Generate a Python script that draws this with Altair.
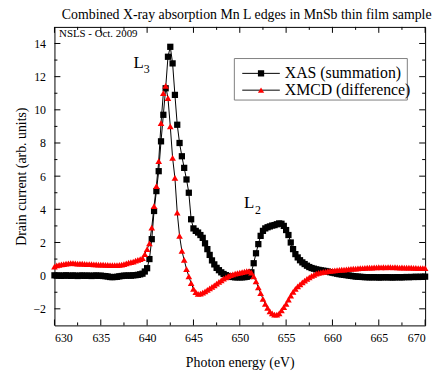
import altair as alt
import pandas as pd

# Photon energy grid (eV), 0.25 eV steps from 630 to 670
energy = [630 + 0.25 * i for i in range(161)]

# XAS (summation), black squares
xas = [
    0.02, 0.0, 0.01, -0.01, 0.0, 0.02, 0.0, -0.01,
    0.01, 0.0, -0.02, 0.0, 0.01, -0.01, 0.0, 0.0,
    -0.02, 0.0, 0.01, -0.01, 0.0, -0.02, -0.03, -0.05,
    -0.08, -0.09, -0.08, -0.07, -0.04, -0.02, 0.0, 0.0,
    0.01, 0.0, 0.02, 0.03, 0.05, 0.08, 0.12, 0.25,
    0.45, 1.0, 2.2, 3.9, 5.1, 6.3, 8.1, 9.7,
    11.3, 13.2, 13.8, 12.8, 10.9, 9.1, 8.0, 7.2,
    6.5, 5.8, 5.0, 3.4, 2.85, 2.7, 2.6, 2.45,
    2.28, 1.95, 1.6, 1.25, 0.92, 0.68, 0.47, 0.33,
    0.2, 0.1, 0.03, -0.02, -0.06, -0.08, -0.1, -0.1,
    -0.1, -0.1, -0.09, -0.07, -0.02, 0.2, 0.75, 1.35,
    1.9, 2.4, 2.7, 2.85, 2.92, 2.97, 3.02, 3.05,
    3.1, 3.15, 3.13, 3.0, 2.75, 2.45, 2.0, 1.6,
    1.3, 1.1, 0.93, 0.8, 0.7, 0.6, 0.52, 0.46,
    0.42, 0.38, 0.35, 0.32, 0.3, 0.28, 0.25, 0.21,
    0.18, 0.15, 0.12, 0.09, 0.07, 0.05, 0.03, 0.01,
    -0.01, -0.03, -0.05, -0.06, -0.07, -0.08, -0.09, -0.09,
    -0.1, -0.1, -0.09, -0.1, -0.11, -0.1, -0.1, -0.09,
    -0.1, -0.1, -0.11, -0.1, -0.09, -0.1, -0.1, -0.09,
    -0.08, -0.09, -0.08, -0.08, -0.07, -0.08, -0.07, -0.07,
    -0.06,
]

# XMCD (difference), red triangles
xmcd = [
    0.55, 0.62, 0.65, 0.68, 0.7, 0.72, 0.74, 0.75,
    0.76, 0.74, 0.73, 0.72, 0.72, 0.71, 0.7, 0.7,
    0.69, 0.68, 0.68, 0.67, 0.67, 0.66, 0.65, 0.65,
    0.64, 0.63, 0.63, 0.64, 0.65, 0.67, 0.7, 0.74,
    0.78, 0.81, 0.85, 0.9, 0.95, 1.0, 1.05, 1.3,
    1.6, 1.95, 2.9, 4.2, 5.4, 6.9, 9.2, 11.0,
    11.45, 10.7, 9.0, 7.1, 5.9, 3.8, 2.4, 1.5,
    0.95, 0.4, -0.05, -0.45, -0.8, -1.0, -1.1, -1.08,
    -1.03, -0.95, -0.86, -0.77, -0.68, -0.58, -0.48, -0.38,
    -0.28, -0.18, -0.1, -0.03, 0.03, 0.08, 0.12, 0.15,
    0.19, 0.22, 0.25, 0.28, 0.27, 0.18, -0.05, -0.35,
    -0.7, -1.05, -1.4, -1.7, -1.95, -2.15, -2.28, -2.35,
    -2.35, -2.28, -2.1, -1.9, -1.7, -1.45, -1.2, -0.98,
    -0.8, -0.65, -0.52, -0.4, -0.3, -0.2, -0.1, -0.02,
    0.05, 0.12, 0.17, 0.2, 0.23, 0.25, 0.27, 0.29,
    0.31, 0.32, 0.33, 0.35, 0.36, 0.37, 0.38, 0.4,
    0.41, 0.42, 0.43, 0.44, 0.45, 0.46, 0.47, 0.48,
    0.48, 0.49, 0.5, 0.5, 0.51, 0.5, 0.51, 0.5,
    0.52, 0.51, 0.5, 0.51, 0.5, 0.49, 0.5, 0.49,
    0.48, 0.49, 0.48, 0.47, 0.47, 0.46, 0.46, 0.45,
    0.45,
]

x_major = [630, 635, 640, 645, 650, 655, 660, 665, 670]
x_minor = [632.5, 637.5, 642.5, 647.5, 652.5, 657.5, 662.5, 667.5]
y_major = [-2, 0, 2, 4, 6, 8, 10, 12, 14]
y_minor = [-1, 1, 3, 5, 7, 9, 11, 13]

series_names = ["XAS (summation)", "XMCD (difference)"]
title_text = "Combined X-ray absorption Mn L edges in MnSb thin film sample"

W, H = 375, 302
FONT = "Liberation Serif"
XDOM = [630, 670]
YDOM = [-3, 15]

df_xas = pd.DataFrame({"e": energy, "v": xas})
df_xmcd = pd.DataFrame({"e": energy, "v": xmcd})

xs = alt.Scale(domain=XDOM, nice=False, zero=False)
ys = alt.Scale(domain=YDOM, nice=False, zero=False)

x_axis = alt.Axis(values=x_major, ticks=False, domain=False, grid=False,
                  labelFont=FONT, labelFontSize=12, labelColor="black",
                  labelPadding=7, title="Photon energy (eV)", titleFont=FONT,
                  titleFontSize=14, titleFontWeight="normal", titleColor="black",
                  titlePadding=13, format="d", labelOverlap=False)
y_axis = alt.Axis(values=y_major, ticks=False, domain=False, grid=False,
                  labelFont=FONT, labelFontSize=12, labelColor="black",
                  labelPadding=9, title="Drain current (arb. units)", titleFont=FONT,
                  titleFontSize=14, titleFontWeight="normal", titleColor="black",
                  titlePadding=5, format="d", labelOverlap=False)

X = alt.X("e:Q", scale=xs, axis=x_axis)
Y = alt.Y("v:Q", scale=ys, axis=y_axis)

line_xas = alt.Chart(df_xas).mark_line(color="black", strokeWidth=1).encode(x=X, y=Y)
line_xmcd = alt.Chart(df_xmcd).mark_line(color="black", strokeWidth=1).encode(x=X, y=Y)
pts_xas = alt.Chart(df_xas).mark_point(shape="square", filled=True, color="black",
                                       size=40, opacity=1).encode(x=X, y=Y)
pts_xmcd = alt.Chart(df_xmcd).mark_point(shape="triangle-up", filled=True, color="#ff0000",
                                         size=45, opacity=1).encode(x=X, y=Y)

# inward tick marks on all four sides
def xticks(vals, length):
    d = pd.DataFrame({"e": vals})
    bot = alt.Chart(d).mark_rule(color="black", strokeWidth=1).encode(
        x=X, y=alt.value(H), y2=alt.value(H - length))
    top = alt.Chart(d).mark_rule(color="black", strokeWidth=1).encode(
        x=X, y=alt.value(0), y2=alt.value(length))
    return [bot, top]

def yticks(vals, length):
    d = pd.DataFrame({"v": vals})
    left = alt.Chart(d).mark_rule(color="black", strokeWidth=1).encode(
        y=Y, x=alt.value(0), x2=alt.value(length))
    right = alt.Chart(d).mark_rule(color="black", strokeWidth=1).encode(
        y=Y, x=alt.value(W), x2=alt.value(W - length))
    return [left, right]

tick_layers = xticks(x_major, 6) + xticks(x_minor, 3) + yticks(y_major, 6) + yticks(y_minor, 3)

# annotations
ann_e = [630.5, 639.07, 639.95, 651.0, 651.95]
ann_v = [14.6, 12.85, 12.45, 4.35, 3.95]
ann_t = ["NSLS - Oct. 2009", "L", "3", "L", "2"]
ann_s = [11, 17, 12, 17, 12]
ann_layers = []
for i in range(len(ann_t)):
    row = pd.DataFrame({"e": [ann_e[i]], "v": [ann_v[i]], "t": [ann_t[i]]})
    ann_layers.append(
        alt.Chart(row).mark_text(font=FONT, fontSize=ann_s[i], color="black",
                                 align="left" if i == 0 else "center",
                                 baseline="middle").encode(x=X, y=Y, text="t:N")
    )

# manual legend
one = pd.DataFrame({"a": [0]})
leg_box = alt.Chart(one).mark_rect(fill="white", stroke="#808080", strokeWidth=1).encode(
    x=alt.value(182), x2=alt.value(357), y=alt.value(32), y2=alt.value(74))
leg = [leg_box]
for yy, name, shape, col in [(47, series_names[0], "square", "black"),
                             (64, series_names[1], "triangle-up", "#ff0000")]:
    leg.append(alt.Chart(one).mark_rule(color="black", strokeWidth=1).encode(
        x=alt.value(190), x2=alt.value(228), y=alt.value(yy)))
    leg.append(alt.Chart(one).mark_point(shape=shape, filled=True, color=col, size=40,
                                         opacity=1).encode(
        x=alt.value(209), y=alt.value(yy)))
    leg.append(alt.Chart(pd.DataFrame({"t": [name]})).mark_text(
        font=FONT, fontSize=16, color="black", align="left", baseline="middle").encode(
        x=alt.value(233), y=alt.value(yy), text="t:N"))

chart = alt.layer(
    line_xas, line_xmcd, pts_xas, pts_xmcd, *tick_layers, *ann_layers, *leg
).properties(
    width=W, height=H,
    title=alt.TitleParams(title_text, font=FONT, fontSize=14, fontWeight="normal",
                          color="black", anchor="middle", dx=7, offset=4),
    autosize=alt.AutoSizeParams(type="none"),
    padding={"left": 47, "top": 17, "right": 10, "bottom": 44},
    background="white",
).configure_view(
    stroke="black", strokeWidth=1
).configure_axis(
    labelFont=FONT, titleFont=FONT
).configure_text(
    font=FONT
)

chart.save("out.html", embed_options={"renderer": "svg", "actions": False})
